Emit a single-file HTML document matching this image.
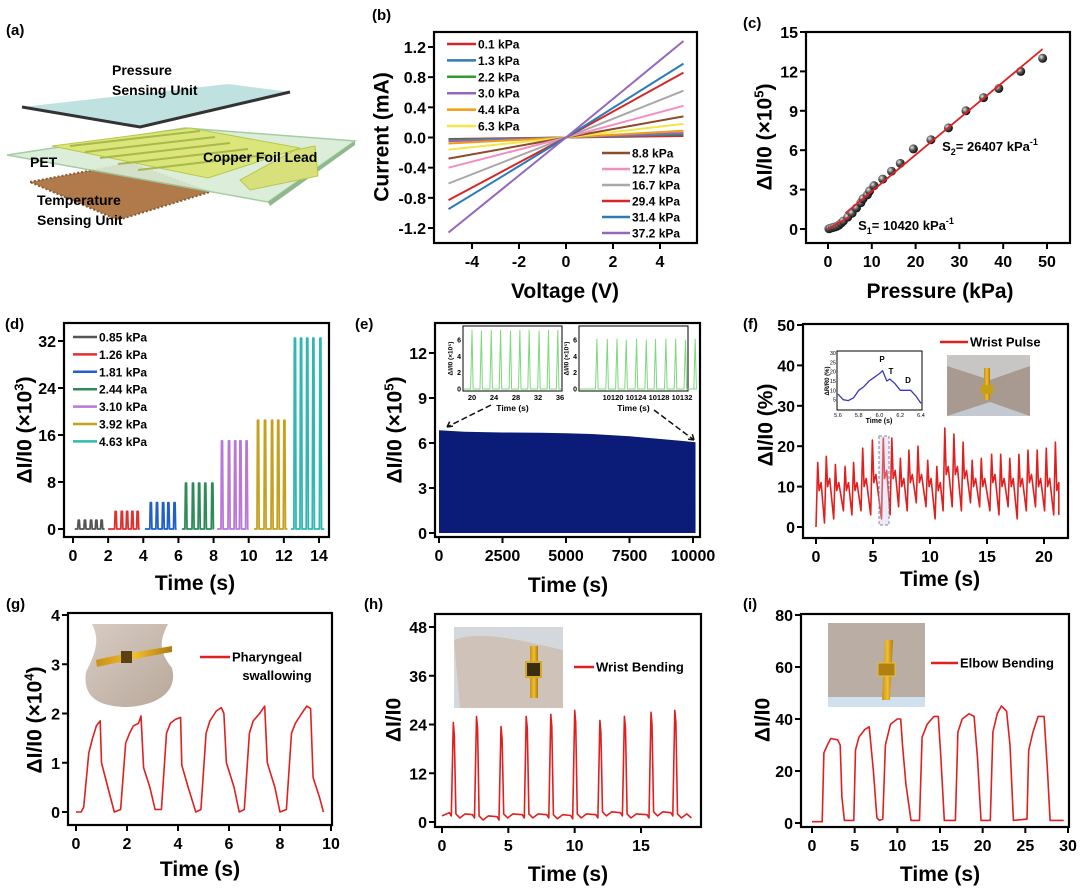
<!DOCTYPE html>
<html><head><meta charset="utf-8">
<style>
html,body{margin:0;padding:0;background:#fff;}
svg{display:block;font-family:"Liberation Sans",Arial,sans-serif;}
.b{font-weight:bold;}
</style></head>
<body>
<svg id="fig" xmlns="http://www.w3.org/2000/svg" width="1080" height="889" viewBox="0 0 1080 889">
<defs>
<radialGradient id="ball" cx="35%" cy="35%" r="65%"><stop offset="0" stop-color="#e8e8e8"/><stop offset="0.5" stop-color="#555"/><stop offset="1" stop-color="#111"/></radialGradient>
<linearGradient id="skin" x1="0" y1="0" x2="1" y2="1"><stop offset="0" stop-color="#d8ccc4"/><stop offset="1" stop-color="#b8a89a"/></linearGradient>
<linearGradient id="gold" x1="0" y1="0" x2="1" y2="0"><stop offset="0" stop-color="#c8901a"/><stop offset="0.5" stop-color="#f0c030"/><stop offset="1" stop-color="#b07a10"/></linearGradient>
</defs>
<g>
<text x="6" y="35" class="b" font-size="15">(a)</text>
<polygon points="30,182 130,163 210,192 118,220" fill="#b07a4a"/>
<polygon points="30,182 130,163 210,192 118,220" fill="none" stroke="#8a5a30" stroke-width="2" stroke-dasharray="2,2"/>
<polygon points="7,155 185,128 355,141 268,202" fill="#d9ecd6" stroke="#9cc89a" stroke-width="1.5" opacity="0.9"/>
<polygon points="268,202 355,141 355,145 270,206" fill="#8fb88c"/>
<polygon points="52,146 190,128 300,148 208,178" fill="#dbe67a" stroke="#b8c84a"/>
<polygon points="295,150 315,146 318,176 250,190 240,180" fill="#d7e07a" stroke="#b8c84a"/>
<g stroke="#a9b84a" stroke-width="2">
<line x1="70" y1="146" x2="200" y2="131"/><line x1="85" y1="152" x2="215" y2="137"/><line x1="100" y1="158" x2="230" y2="143"/><line x1="118" y1="164" x2="248" y2="149"/><line x1="138" y1="170" x2="266" y2="155"/>
</g>
<polygon points="22,107 228,84 290,92 140,127" fill="#bfe2e0"/>
<polyline points="22,107 140,127 290,92" fill="none" stroke="#333" stroke-width="3"/>
<text x="112" y="75" class="b" font-size="14">Pressure</text>
<text x="112" y="95" class="b" font-size="14">Sensing Unit</text>
<text x="30" y="167" class="b" font-size="14">PET</text>
<text x="203" y="162" class="b" font-size="14">Copper Foil Lead</text>
<text x="37" y="205" class="b" font-size="14">Temperature</text>
<text x="37" y="225" class="b" font-size="14">Sensing Unit</text>
</g>
<text x="372" y="20" class="b" font-size="15">(b)</text>
<text x="743" y="28" class="b" font-size="15">(c)</text>
<text x="5" y="329" class="b" font-size="15">(d)</text>
<text x="355" y="329" class="b" font-size="15">(e)</text>
<text x="743" y="329" class="b" font-size="15">(f)</text>
<text x="6" y="609" class="b" font-size="15">(g)</text>
<text x="364" y="609" class="b" font-size="15">(h)</text>
<text x="743" y="609" class="b" font-size="15">(i)</text>

<g>
<rect x="84" y="624" width="91" height="83" fill="#fff"/>
<path d="M92,624 L168,624 C160,640 158,650 172,668 C178,690 160,705 128,707 C100,707 82,698 86,672 C96,652 100,640 92,624 Z" fill="url(#skin)"/>
<path d="M96,660 C120,654 150,650 172,646 L172,652 C150,656 120,662 97,667 Z" fill="url(#gold)"/>
<rect x="121" y="651" width="11" height="12" fill="#5a4012"/>
</g>
<g>
<rect x="454" y="627" width="109" height="81" fill="#d4d8dc"/>
<path d="M454,640 C480,630 520,640 563,650 L563,708 L460,708 Z" fill="#cfc2b8"/>
<rect x="530" y="646" width="8" height="52" fill="url(#gold)"/>
<rect x="526" y="662" width="15" height="15" fill="#3a2e10" stroke="#d8a820" stroke-width="2"/>
</g>
<g>
<rect x="828" y="623" width="97" height="84" fill="#b9ada4"/>
<rect x="828" y="697" width="97" height="10" fill="#cfe0ee"/>
<path d="M885,640 L893,640 L890,700 L882,700 Z" fill="url(#gold)"/>
<rect x="878" y="663" width="17" height="13" fill="#b08010" stroke="#e8c030"/>
</g>
<g>
<rect x="947" y="355" width="83" height="61" fill="#a89a90"/>
<path d="M947,355 L1030,355 L1030,366 L990,380 L947,366 Z" fill="#c8c6c4"/>
<path d="M947,416 L990,402 L1030,416 Z" fill="#c4c8d0"/>
<rect x="984" y="368" width="6" height="32" fill="url(#gold)"/>
<rect x="981" y="385" width="12" height="9" fill="#c8a010"/>
</g>
<g id="plots"></g>
</svg>
<script>
const NS="http://www.w3.org/2000/svg";
const root=document.getElementById('plots');
function mk(tag,parent){const e=document.createElementNS(NS,tag);parent.appendChild(e);return e;}
function lin(v0,p0,v1,p1){return v=>p0+(v-v0)*(p1-p0)/(v1-v0);}
const NARROW='"Liberation Sans Narrow","Liberation Sans",Arial,sans-serif';

// ---------- DATA ----------
const bPressures=['0.1 kPa','1.3 kPa','2.2 kPa','3.0 kPa','4.4 kPa','6.3 kPa','8.8 kPa','12.7 kPa','16.7 kPa','29.4 kPa','31.4 kPa','37.2 kPa'];
const bColors=['#d62728','#2b7bb9','#2ca02c','#9467bd','#f39c12','#f2e64a','#8c4b2a','#f38fc0','#a8a8a8','#d62728','#2b7bb9','#9467bd'];
const bNeg=[-0.02,-0.03,-0.04,-0.05,-0.08,-0.16,-0.28,-0.40,-0.61,-0.83,-0.95,-1.26];
const bPos=[0.02,0.04,0.05,0.06,0.09,0.18,0.28,0.42,0.62,0.86,0.98,1.28];
const bXTicks=[-4,-2,0,2,4];
const bYTicks=[-1.2,-0.8,-0.4,0.0,0.4,0.8,1.2];
const cP=[0.2,0.5,1,1.5,2,2.5,3,3.5,4.5,5.5,6.5,7.5,8,9,9.5,10.5,12.5,14.5,16.5,19.5,23.5,27.5,31.5,35.5,39,44,49];
const cV=[0.02,0.05,0.1,0.15,0.2,0.3,0.45,0.6,0.9,1.2,1.6,2.0,2.3,2.6,2.9,3.3,3.8,4.4,5.0,6.1,6.8,7.7,9.0,10.0,10.7,12.0,13.0];
const cFit1X=[0,5], cFit1Y=[0,0.95];
const cFit2X=[4,49], cFit2Y=[1.2,13.7];
const cXTicks=[0,10,20,30,40,50];
const cYTicks=[0,3,6,9,12,15];
const dLabels=['0.85 kPa','1.26 kPa','1.81 kPa','2.44 kPa','3.10 kPa','3.92 kPa','4.63 kPa'];
const dColors=['#555555','#e03030','#2060c8','#2e8b57','#b878d8','#c8a020','#30b8b0'];
const dStart=[0.1,2.0,4.1,6.2,8.2,10.3,12.4];
const dEnd=[1.8,3.8,5.9,8.0,10.0,12.2,14.3];
const dPeak=[1.5,3.0,4.5,7.8,15.0,18.5,32.5];
const dSpikes=[[0.3,0.65,1.0,1.3,1.6],[2.4,2.75,3.05,3.35,3.65],[4.4,4.75,5.1,5.4,5.75],[6.4,6.8,7.15,7.5,7.9],[8.45,8.85,9.2,9.5,9.85],[10.5,10.9,11.3,11.65,12.0],[12.6,12.95,13.3,13.65,14.05]];
const dXTicks=[0,2,4,6,8,10,12,14];
const dYTicks=[0,8,16,24,32];
const eT=[0,1000,2500,4000,5000,6000,7500,8500,9500,10100];
const eV=[6.85,6.75,6.7,6.68,6.65,6.6,6.45,6.3,6.15,6.05];
const eXTicks=[0,2500,5000,7500,10000];
const eYTicks=[0,3,6,9,12];
const e1T=[20,21.7,23.5,25.2,27.0,28.7,30.4,32.2,33.9,35.6];
const e1Peak=[7.2,7.1,7.2,7.2,7.1,7.2,7.2,7.1,7.2,7.2];
const e1Ticks=[20,24,28,32,36];
const e2T=[10117.2,10119.0,10120.7,10122.3,10124.1,10125.8,10127.4,10129.2,10130.9,10132.6,10134.3];
const e2Peak=[6.1,6.1,6.1,6.0,6.1,6.0,6.1,6.1,6.1,6.0,6.1];
const e2Ticks=[10120,10124,10128,10132];
const eInYTicks=[0,2,4,6];
const fPeakT=[0.15,0.9,1.7,2.55,3.3,4.1,4.95,5.9,6.65,7.4,8.15,8.95,9.8,10.6,11.3,12.1,12.9,13.7,14.5,15.4,16.2,17.0,17.8,18.6,19.4,20.2,21.0];
const fPeakV=[16,17.5,15.5,15,16,19.5,21.5,22,22,17,19,20,16.5,15,24.5,23,21,16.5,17,18,18,17,18,19,19,19.5,21];
const fTroughV=[0,1,2,4,3,4,3,2,3,5,4,6,5,2,4,5,4,6,5,4,3,5,2,4,5,4,3,3];
const fShoulderV=[11,12,11,11,11,12,13,14,14,12,13,13,12,11,15,15,14,12,12,13,12,12,12,13,12,12,11];
const fXTicks=[0,5,10,15,20];
const fYTicks=[0,10,20,30,40,50];
const fInT=[5.6,5.65,5.7,5.75,5.8,5.85,5.9,5.95,6.0,6.03,6.07,6.1,6.15,6.2,6.25,6.3,6.35,6.4];
const fInV=[8,5,4.5,6,10,12,15,17,19,20.5,15,16,13.5,10,10,10,7,3];
const fInXTicks=[5.6,5.8,6.0,6.2,6.4];
const fInYTicks=[5,10,15,20,25,30];
const gT=[0,0.2,0.3,0.5,0.65,0.8,0.95,1.0,1.2,1.5,1.75,1.95,2.1,2.25,2.45,2.55,2.65,2.9,3.1,3.35,3.55,3.7,3.9,4.1,4.15,4.4,4.7,4.9,5.1,5.25,5.5,5.7,5.8,5.9,6.2,6.4,6.6,6.8,6.95,7.2,7.4,7.5,7.8,8.0,8.25,8.45,8.6,8.85,9.05,9.2,9.3,9.55,9.7];
const gV=[0,0,0.1,1.2,1.5,1.75,1.85,1.0,0.6,0,0.05,1.4,1.6,1.75,1.8,1.95,0.9,0.5,0.05,0.05,1.6,1.8,1.88,1.92,0.95,0.5,0,0.05,1.6,1.85,2.05,2.12,2.0,1.0,0.5,0,0.05,1.6,1.85,2.0,2.15,1.0,0.5,0,0.05,1.6,1.8,2.0,2.15,2.1,0.7,0.3,0];
const gXTicks=[0,2,4,6,8,10];
const gYTicks=[0,1,2,3,4];
const hPeakT=[0.85,2.6,4.45,6.35,8.2,10.0,11.9,13.75,15.75,17.55];
const hPeakV=[24.5,26,23.5,26,26.5,27.5,25,26,27,27.5];
const hBase=[1.5,1,0.5,1,1,0.8,1,1.5,1,1.5,1];
const hXTicks=[0,5,10,15];
const hYTicks=[0,12,24,36,48];
const iT=[0,1.2,1.4,1.8,2.2,3,3.3,3.5,3.8,4.9,5.1,5.5,6.2,6.7,7.2,7.6,7.9,8.3,8.6,9.2,10,10.4,10.6,11,11.6,12.6,12.9,13.5,14.3,14.8,15.1,15.5,16.8,17.1,17.6,18.4,19,19.4,19.8,20.9,21.2,21.7,22.2,22.8,23.2,23.6,25.2,25.4,25.9,26.5,27.2,27.6,27.9,29.5];
const iV=[0.5,0.5,27,30,32.5,32,30,10,1,1,28,33,36,37,20,2,1,1.5,30,38,40,40,30,15,1,1,33,38,41,41,25,1,1,35,40,42,41,25,1,1,35,42,45,43,30,1,1.5,28,35,41,41,20,1,1];
const iXTicks=[0,5,10,15,20,25,30];
const iYTicks=[0,20,40,60,80];

// ---------- HELPERS ----------
function axes(name,F,sx,sy,xt,yt,fx,fy,fs,font){
  const g=mk('g',root);
  
  
  const r=mk('rect',g);
  
  
  r.setAttribute('x',F[0]);r.setAttribute('y',F[1]);r.setAttribute('width',F[2]-F[0]);r.setAttribute('height',F[3]-F[1]);
  r.setAttribute('fill','none');r.setAttribute('stroke','#000');r.setAttribute('stroke-width','2.2');
  xt.forEach(v=>{
    const x=sx(v);
    const l=mk('line',g);
    
    
    l.setAttribute('x1',x);l.setAttribute('x2',x);l.setAttribute('y1',F[3]);l.setAttribute('y2',F[3]+6);l.setAttribute('stroke','#000');l.setAttribute('stroke-width','2');
    const t=mk('text',g);
    
    
    t.setAttribute('x',x);t.setAttribute('y',F[3]+24);t.setAttribute('text-anchor','middle');t.setAttribute('font-size',fs);t.setAttribute('font-weight','bold');
    if(font)t.setAttribute('font-family',font);
    t.textContent=fx(v);
  });
  yt.forEach(v=>{
    const y=sy(v);
    const l=mk('line',g);
    
    
    l.setAttribute('x1',F[0]-6);l.setAttribute('x2',F[0]);l.setAttribute('y1',y);l.setAttribute('y2',y);l.setAttribute('stroke','#000');l.setAttribute('stroke-width','2');
    const t=mk('text',g);
    
    
    t.setAttribute('x',F[0]-8);t.setAttribute('y',y+6);t.setAttribute('text-anchor','end');t.setAttribute('font-size',fs);t.setAttribute('font-weight','bold');
    if(font)t.setAttribute('font-family',font);
    t.textContent=fy(v);
  });
  return g;
}
function title(g,name,txt,x,y,fs,rot,font){
  const t=mk('text',g);
  
  
  t.setAttribute('font-size',fs);t.setAttribute('font-weight','bold');t.setAttribute('text-anchor','middle');
  if(font)t.setAttribute('font-family',font);
  if(rot){t.setAttribute('transform','translate('+x+','+y+') rotate(-90)');t.setAttribute('dy','0.35em');}
  else{t.setAttribute('x',x);t.setAttribute('y',y);}
  t.innerHTML=txt;
  return t;
}
function poly(g,name,pts,color,w){
  const p=mk('polyline',g);
  
  
  p.setAttribute('points',pts.map(q=>q[0].toFixed(1)+','+q[1].toFixed(1)).join(' '));
  p.setAttribute('fill','none');p.setAttribute('stroke',color);p.setAttribute('stroke-width',w);p.setAttribute('stroke-linejoin','round');
  return p;
}
function legendLine(g,name,x1,x2,y,color,txt,fs,font){
  const l=mk('line',g);
  
  
  l.setAttribute('x1',x1);l.setAttribute('x2',x2);l.setAttribute('y1',y);l.setAttribute('y2',y);l.setAttribute('stroke',color);l.setAttribute('stroke-width','2.5');
  const t=mk('text',g);
  
  
  t.setAttribute('x',x2+2);t.setAttribute('y',y+4.5);t.setAttribute('font-size',fs);t.setAttribute('font-weight','bold');
  if(font)t.setAttribute('font-family',font);
  t.textContent=txt;
}
const fmt1=v=>v.toFixed(1);
const fint=v=>String(v);
const YL='ΔI/I0';
const TF=16, AT=21;

// ---------- (b) ----------
(function(){
  const F=[434,32,697,243];
  const sx=lin(-4,472,4,660), sy=lin(1.2,47,-1.2,228);
  const g=axes('panel-b',F,sx,sy,bXTicks,bYTicks,fint,fmt1,TF);
  bPos.forEach((v,i)=>{
    poly(g,'iv-line-'+bPressures[i].replace(/[ .]/g,'-'),[[sx(-5),sy(bNeg[i])],[sx(0),sy(0)],[sx(5),sy(v)]],bColors[i],2);
  });
  bPressures.forEach((p,i)=>{
    if(i<6) legendLine(g,'legend-entry-'+p.replace(/[ .]/g,'-'),447,476,44+i*16.4,bColors[i],p,12);
    else legendLine(g,'legend-entry-'+p.replace(/[ .]/g,'-'),602,630,153+(i-6)*16,bColors[i],p,12);
  });
  title(g,'x-axis-title-voltage','Voltage (V)',565,298,AT);
  title(g,'y-axis-title-current','Current (mA)',381,137,AT,true);
})();

// ---------- (c) ----------
(function(){
  const F=[806,32,1070,243];
  const sx=lin(0,828,50,1047), sy=lin(0,229,15,32);
  const g=axes('panel-c',F,sx,sy,cXTicks,cYTicks,fint,fint,TF);
  cP.forEach((p,i)=>{
    const c=mk('circle',g);
    
    
    c.setAttribute('cx',sx(p));c.setAttribute('cy',sy(cV[i]));c.setAttribute('r',4.5);c.setAttribute('fill','url(#ball)');
  });
  poly(g,'fit-line-s1',[[sx(cFit1X[0]),sy(cFit1Y[0])],[sx(cFit1X[1]),sy(cFit1Y[1])]],'#e02020',1.8);
  poly(g,'fit-line-s2',[[sx(cFit2X[0]),sy(cFit2Y[0])],[sx(cFit2X[1]),sy(cFit2Y[1])]],'#e02020',1.8);
  title(g,'annotation-s2','S<tspan font-size="9" dy="4">2</tspan><tspan dy="-4">= 26407 kPa</tspan><tspan font-size="9" dy="-6">-1</tspan>',990,151,13);
  title(g,'annotation-s1','S<tspan font-size="9" dy="4">1</tspan><tspan dy="-4">= 10420 kPa</tspan><tspan font-size="9" dy="-6">-1</tspan>',906,230,13);
  title(g,'x-axis-title-pressure','Pressure (kPa)',940,298,AT);
  title(g,'y-axis-title-c',YL+' (×10<tspan font-size="13" dy="-8">5</tspan><tspan dy="8">)</tspan>',764,137,AT,true);
})();

// ---------- (d) ----------
(function(){
  const F=[64,323,329,537];
  const sx=lin(0,73,14,319), sy=lin(0,529,32,341);
  const g=axes('panel-d',F,sx,sy,dXTicks,dYTicks,fint,fint,TF,NARROW);
  dSpikes.forEach((sp,k)=>{
    const pts=[[sx(dStart[k]),sy(0)]];
    sp.forEach(t=>{pts.push([sx(t-0.03),sy(0)],[sx(t),sy(dPeak[k])],[sx(t+0.06),sy(dPeak[k])],[sx(t+0.09),sy(0)]);});
    pts.push([sx(dEnd[k]),sy(0)]);
    poly(g,'pulse-series-'+k,pts,dColors[k],1.8);
  });
  dLabels.forEach((l,i)=>legendLine(g,'legend-entry-'+l.replace(/[ .]/g,'-'),73,97,337+i*17.4,dColors[i],l,12,NARROW));
  title(g,'x-axis-title-time-d','Time (s)',195,590,AT,false,NARROW);
  title(g,'y-axis-title-d',YL+' (×10<tspan font-size="13" dy="-8">3</tspan><tspan dy="8">)</tspan>',24,430,AT,true);
})();

// ---------- (e) ----------
(function(){
  const F=[435,323,700,537];
  const sx=lin(0,439,10000,693), sy=lin(0,533,12,353);
  const g=axes('panel-e',F,sx,sy,eXTicks,eYTicks,fint,fint,TF);
  const pts=eT.map((t,i)=>sx(t).toFixed(1)+','+sy(eV[i]).toFixed(1));
  const a=mk('polygon',g);
  
  
  a.setAttribute('points',sx(0)+','+sy(0)+' '+pts.join(' ')+' '+sx(eT[eT.length-1])+','+sy(0));
  a.setAttribute('fill','#0b1b78');
  function inset(nm,F2,sx2,sy2,T,P,xt){
    const r=mk('rect',g);
    
    
    r.setAttribute('x',F2[0]);r.setAttribute('y',F2[1]);r.setAttribute('width',F2[2]-F2[0]);r.setAttribute('height',F2[3]-F2[1]);
    r.setAttribute('fill','#fff');r.setAttribute('stroke','#000');r.setAttribute('stroke-width','1');
    const pts=[[F2[0]+1,sy2(0)]];
    T.forEach((t,i)=>{pts.push([sx2(t-0.25),sy2(0)],[sx2(t),sy2(P[i])],[sx2(t+0.2),sy2(0)]);});
    pts.push([F2[2]-1,sy2(0)]);
    poly(g,nm+'-series',pts,'#7ed87e',1);
    xt.forEach(v=>{const t=mk('text',g);
      
      
      t.setAttribute('x',sx2(v));t.setAttribute('y',F2[3]+9);t.setAttribute('font-size','7.5');t.setAttribute('font-weight','bold');t.setAttribute('text-anchor','middle');t.textContent=v;});
    eInYTicks.forEach(v=>{const t=mk('text',g);
      
      
      t.setAttribute('x',F2[0]-2);t.setAttribute('y',sy2(v)+2.5);t.setAttribute('font-size','7');t.setAttribute('font-weight','bold');t.setAttribute('text-anchor','end');t.textContent=v;});
    title(g,nm+'-x-title','Time (s)',(F2[0]+F2[2])/2,F2[3]+20,8.5);
    title(g,nm+'-y-title',YL+' (×10⁵)',F2[0]-13,(F2[1]+F2[3])/2,6.5,true);
  }
  inset('inset-early',[463,326,562,391],lin(20,472,36,560),lin(0,389,6,340),e1T,e1Peak,e1Ticks);
  inset('inset-late',[579,326,688,391],lin(10120,613,10132,682),lin(0,389,6,340),e2T,e2Peak,e2Ticks);
  const ar1=mk('path',g);
  
  
  ar1.setAttribute('d','M491,405 L447,427 M447,427 l7,-1 M447,427 l3,-6');
  ar1.setAttribute('stroke','#111');ar1.setAttribute('stroke-width','1.5');ar1.setAttribute('stroke-dasharray','6,3');ar1.setAttribute('fill','none');
  const ar2=mk('path',g);
  
  
  ar2.setAttribute('d','M654,410 L694,440 M694,440 l-2,-7 M694,440 l-7,-1');
  ar2.setAttribute('stroke','#111');ar2.setAttribute('stroke-width','1.5');ar2.setAttribute('stroke-dasharray','6,3');ar2.setAttribute('fill','none');
  title(g,'x-axis-title-time-e','Time (s)',568,592,AT);
  title(g,'y-axis-title-e',YL+' (×10<tspan font-size="13" dy="-8">5</tspan><tspan dy="8">)</tspan>',394,430,AT,true);
})();

// ---------- (f) ----------
(function(){
  const F=[803,324,1068,538];
  const sx=lin(0,816,20,1044), sy=lin(0,527,50,325);
  const g=axes('panel-f',F,sx,sy,fXTicks,fYTicks,fint,fint,TF);
  const pts=[[sx(0),sy(fTroughV[0])]];
  fPeakT.forEach((t,i)=>{
    if(i>0)pts.push([sx(t-0.15),sy(fTroughV[i])]);
    pts.push([sx(t),sy(fPeakV[i])],[sx(t+0.12),sy(fShoulderV[i]-2)],[sx(t+0.3),sy(fShoulderV[i])]);
  });
  pts.push([sx(21.3),sy(fTroughV[fTroughV.length-1])]);
  poly(g,'wrist-pulse-series',pts,'#e02020',1.6);
  const box=mk('rect',g);
  
  
  box.setAttribute('x',879);box.setAttribute('y',436);box.setAttribute('width',10);box.setAttribute('height',89);
  box.setAttribute('fill','rgba(200,200,230,0.35)');box.setAttribute('stroke','#8080b0');box.setAttribute('stroke-dasharray','3,2');
  legendLine(g,'legend-entry-wrist-pulse',940,968,342,'#e02020','Wrist Pulse',13);
  const IF=[837,351,922,410];
  const isx=lin(5.6,838,6.4,921), isy=lin(0,409,30,353);
  const r=mk('rect',g);
  
  
  r.setAttribute('x',IF[0]);r.setAttribute('y',IF[1]);r.setAttribute('width',IF[2]-IF[0]);r.setAttribute('height',IF[3]-IF[1]);
  r.setAttribute('fill','#fff');r.setAttribute('stroke','#000');r.setAttribute('stroke-width','1');
  poly(g,'pulse-inset-series',fInT.map((t,i)=>[isx(t),isy(fInV[i])]),'#3a3ab8',1.3);
  fInXTicks.forEach(v=>{const t=mk('text',g);
    
    
    t.setAttribute('x',isx(v));t.setAttribute('y',IF[3]+7);t.setAttribute('font-size','5.5');t.setAttribute('text-anchor','middle');t.textContent=v.toFixed(1);});
  fInYTicks.forEach(v=>{const t=mk('text',g);
    
    
    t.setAttribute('x',IF[0]-1);t.setAttribute('y',isy(v)+2);t.setAttribute('font-size','5.5');t.setAttribute('text-anchor','end');t.textContent=v;});
  title(g,'pulse-inset-x-title','Time (s)',879,423,7);
  title(g,'pulse-inset-y-title','ΔR/R0 (%)',827,381,6,true);
  title(g,'label-p','P',882,362,8);
  title(g,'label-t','T',891,374,8);
  title(g,'label-d','D',908,383,8);
  title(g,'x-axis-title-time-f','Time (s)',940,586,AT);
  title(g,'y-axis-title-f',YL+' (%)',765,425,AT,true);
})();

// ---------- (g) ----------
(function(){
  const F=[68,613,332,825];
  const sx=lin(0,76,10,331), sy=lin(0,812,4,615);
  const g=axes('panel-g',F,sx,sy,gXTicks,gYTicks,fint,fint,TF,NARROW);
  poly(g,'swallowing-series',gT.map((t,i)=>[sx(t),sy(gV[i])]),'#e02020',1.6);
  legendLine(g,'legend-entry-pharyngeal-swallowing',200,230,657,'#e02020','Pharyngeal',13,NARROW);
  title(g,'legend-text-swallowing','swallowing',277,680,13,false,NARROW);
  title(g,'x-axis-title-time-g','Time (s)',200,876,AT,false,NARROW);
  title(g,'y-axis-title-g',YL+' (×10<tspan font-size="13" dy="-8">4</tspan><tspan dy="8">)</tspan>',34,720,AT,true);
})();

// ---------- (h) ----------
(function(){
  const F=[435,614,701,827];
  const sx=lin(0,442,15,641), sy=lin(0,822,48,627);
  const g=axes('panel-h',F,sx,sy,hXTicks,hYTicks,fint,fint,TF,NARROW);
  const pts=[[sx(0),sy(hBase[0])]];
  hPeakT.forEach((t,i)=>{
    pts.push([sx(t-0.3),sy(hBase[i]+0.8)],[sx(t-0.15),sy(hBase[i])],[sx(t),sy(hPeakV[i])],[sx(t+0.08),sy(hPeakV[i]-3)],[sx(t+0.2),sy(hBase[i+1]+1)],[sx(t+0.5),sy(hBase[i+1])],[sx(t+0.9),sy(hBase[i+1]+1)]);
  });
  pts.push([sx(18.8),sy(hBase[hBase.length-1])]);
  poly(g,'wrist-bending-series',pts,'#e02020',1.6);
  legendLine(g,'legend-entry-wrist-bending',574,594,667,'#e02020','Wrist Bending',13,NARROW);
  title(g,'x-axis-title-time-h','Time (s)',568,881,AT,false,NARROW);
  title(g,'y-axis-title-h',YL,393,720,AT,true);
})();

// ---------- (i) ----------
(function(){
  const F=[801,614,1069,827];
  const sx=lin(0,812,30,1068), sy=lin(0,823,80,615);
  const g=axes('panel-i',F,sx,sy,iXTicks,iYTicks,fint,fint,TF);
  poly(g,'elbow-bending-series',iT.map((t,i)=>[sx(t),sy(iV[i])]),'#e02020',1.6);
  legendLine(g,'legend-entry-elbow-bending',931,958,663,'#e02020','Elbow Bending',13);
  title(g,'x-axis-title-time-i','Time (s)',940,881,AT);
  title(g,'y-axis-title-i',YL,762,720,AT,true);
})();
</script>
</body></html>
